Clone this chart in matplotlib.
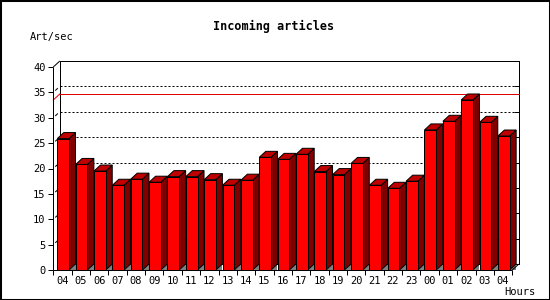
import numpy as np
import matplotlib.pyplot as plt
from matplotlib.patches import Polygon, Rectangle

# data (articles per second, hourly)
hours = ["04", "05", "06", "07", "08", "09", "10", "11", "12", "13", "14", "15", "16",
         "17", "18", "19", "20", "21", "22", "23", "00", "01", "02", "03", "04"]
rate = [25.9, 20.8, 19.5, 16.7, 17.9, 17.3, 18.4, 18.4, 17.8, 16.7, 17.7, 22.2, 21.8,
        22.8, 19.4, 18.8, 21.0, 16.7, 16.1, 17.5, 27.6, 29.3, 33.5, 29.1, 26.4]
peak = 33.5
y_ticks = [0, 5, 10, 15, 20, 25, 30, 35, 40]

W, H = 550, 300
slot_px = 18.36        # pixels per hour slot
unit_px = 5.075        # pixels per art/sec
ox, oy = 53.3, 270     # front origin, pixels from top-left
dpx, dpy = 6.5, 6.0    # 3d depth offset in pixels
bar_off_px, bar_w_px = 4.0, 11.7

n = len(hours)
ymax = y_ticks[-1]
dx = dpx / slot_px
dy = dpy / unit_px
off = bar_off_px / slot_px
bw = bar_w_px / slot_px
px = 0.72  # one pixel in points

plt.rcParams['font.family'] = ['DejaVu Sans Mono']

fig = plt.figure(figsize=(5.5, 3), dpi=100)
ax_w = n * slot_px + dpx
ax_h = ymax * unit_px + dpy
ax = fig.add_axes([ox / W, (H - oy) / H, ax_w / W, ax_h / H])
ax.set_xlim(0, n + dx)
ax.set_ylim(0, ymax + dy)
for s in ax.spines.values():
    s.set_visible(False)
ax.patch.set_visible(False)

lk = dict(color="black", lw=px, clip_on=False, solid_capstyle="butt")

# back plane
xb0, xb1 = dx, n + dx
ax.plot([xb0, xb1, xb1, xb0, xb0], [dy, dy, ymax + dy, ymax + dy, dy], zorder=1, **lk)
for v in y_ticks[1:-1]:
    ax.plot([xb0, xb1], [v + dy, v + dy], color="black", lw=px, ls=(0, (2, 2)),
            clip_on=False, zorder=1)
for v in y_ticks:
    ax.plot([xb1 - 5 / slot_px, xb1], [v + dy, v + dy], zorder=1, **lk)
    if 0 < v < ymax:
        ax.plot([0.3 * dx, 0.7 * dx], [v + 0.3 * dy, v + 0.7 * dy], zorder=1, **lk)

# peak line (horizontal part separately so it snaps to one pixel)
ax.plot([dx, xb1], [peak + dy, peak + dy], color="#e00000", lw=px,
        clip_on=False, zorder=1.5, snap=True)
ax.plot([0, dx], [peak, peak + dy], color="#e00000", lw=px,
        clip_on=False, zorder=1.5)

# bars
for i, v in enumerate(rate):
    a = i + off
    b = a + bw
    ax.add_patch(Polygon([(b, 0), (b + dx, 0), (b + dx, dy)], closed=True,
                         facecolor="#808080", edgecolor="none", zorder=2))
    ax.add_patch(Polygon([(b, 0), (b + dx, dy), (b + dx, v + dy), (b, v)], closed=True,
                         facecolor="#800000", edgecolor="black", lw=px, zorder=3))
    ax.add_patch(Polygon([(a, v), (b, v), (b + dx, v + dy), (a + dx, v + dy)], closed=True,
                         facecolor="#c00000", edgecolor="black", lw=px, zorder=3))
    ax.add_patch(Rectangle((a, 0), bw, v, facecolor="#ff0000", edgecolor="black",
                           lw=px, zorder=3))

# front axes
ax.plot([0, 0], [0, ymax], zorder=4, **lk)
ax.plot([0, n], [0, 0], zorder=4, **lk)
ax.plot([0, dx], [ymax, ymax + dy], zorder=4, **lk)
ax.plot([n, n + dx], [0, dy], zorder=4, **lk)

ax.set_yticks(y_ticks)
ax.tick_params(axis="y", length=5 * px, width=px, pad=2, labelsize=7.5)
ax.set_xticks(np.arange(n + 1), [""] * (n + 1))
ax.set_xticks(np.arange(n) + 0.5, hours, minor=True)
ax.tick_params(axis="x", which="major", length=5 * px, width=px)
ax.tick_params(axis="x", which="minor", length=0, pad=4, labelsize=7.5)

fig.text(274 / W, 1 - 26.5 / H, "Incoming articles", ha="center", va="center",
         fontsize=8.5, fontweight="bold")
fig.text(30 / W, 1 - 37 / H, "Art/sec", ha="left", va="center", fontsize=7.5)
fig.text(504 / W, 1 - 292 / H, "Hours", ha="left", va="center", fontsize=7.5)

fig.add_artist(Rectangle((0, 0), 1, 1, transform=fig.transFigure, fill=False,
                         edgecolor="black", lw=2.2))

fig.savefig("out.png", dpi=100)
